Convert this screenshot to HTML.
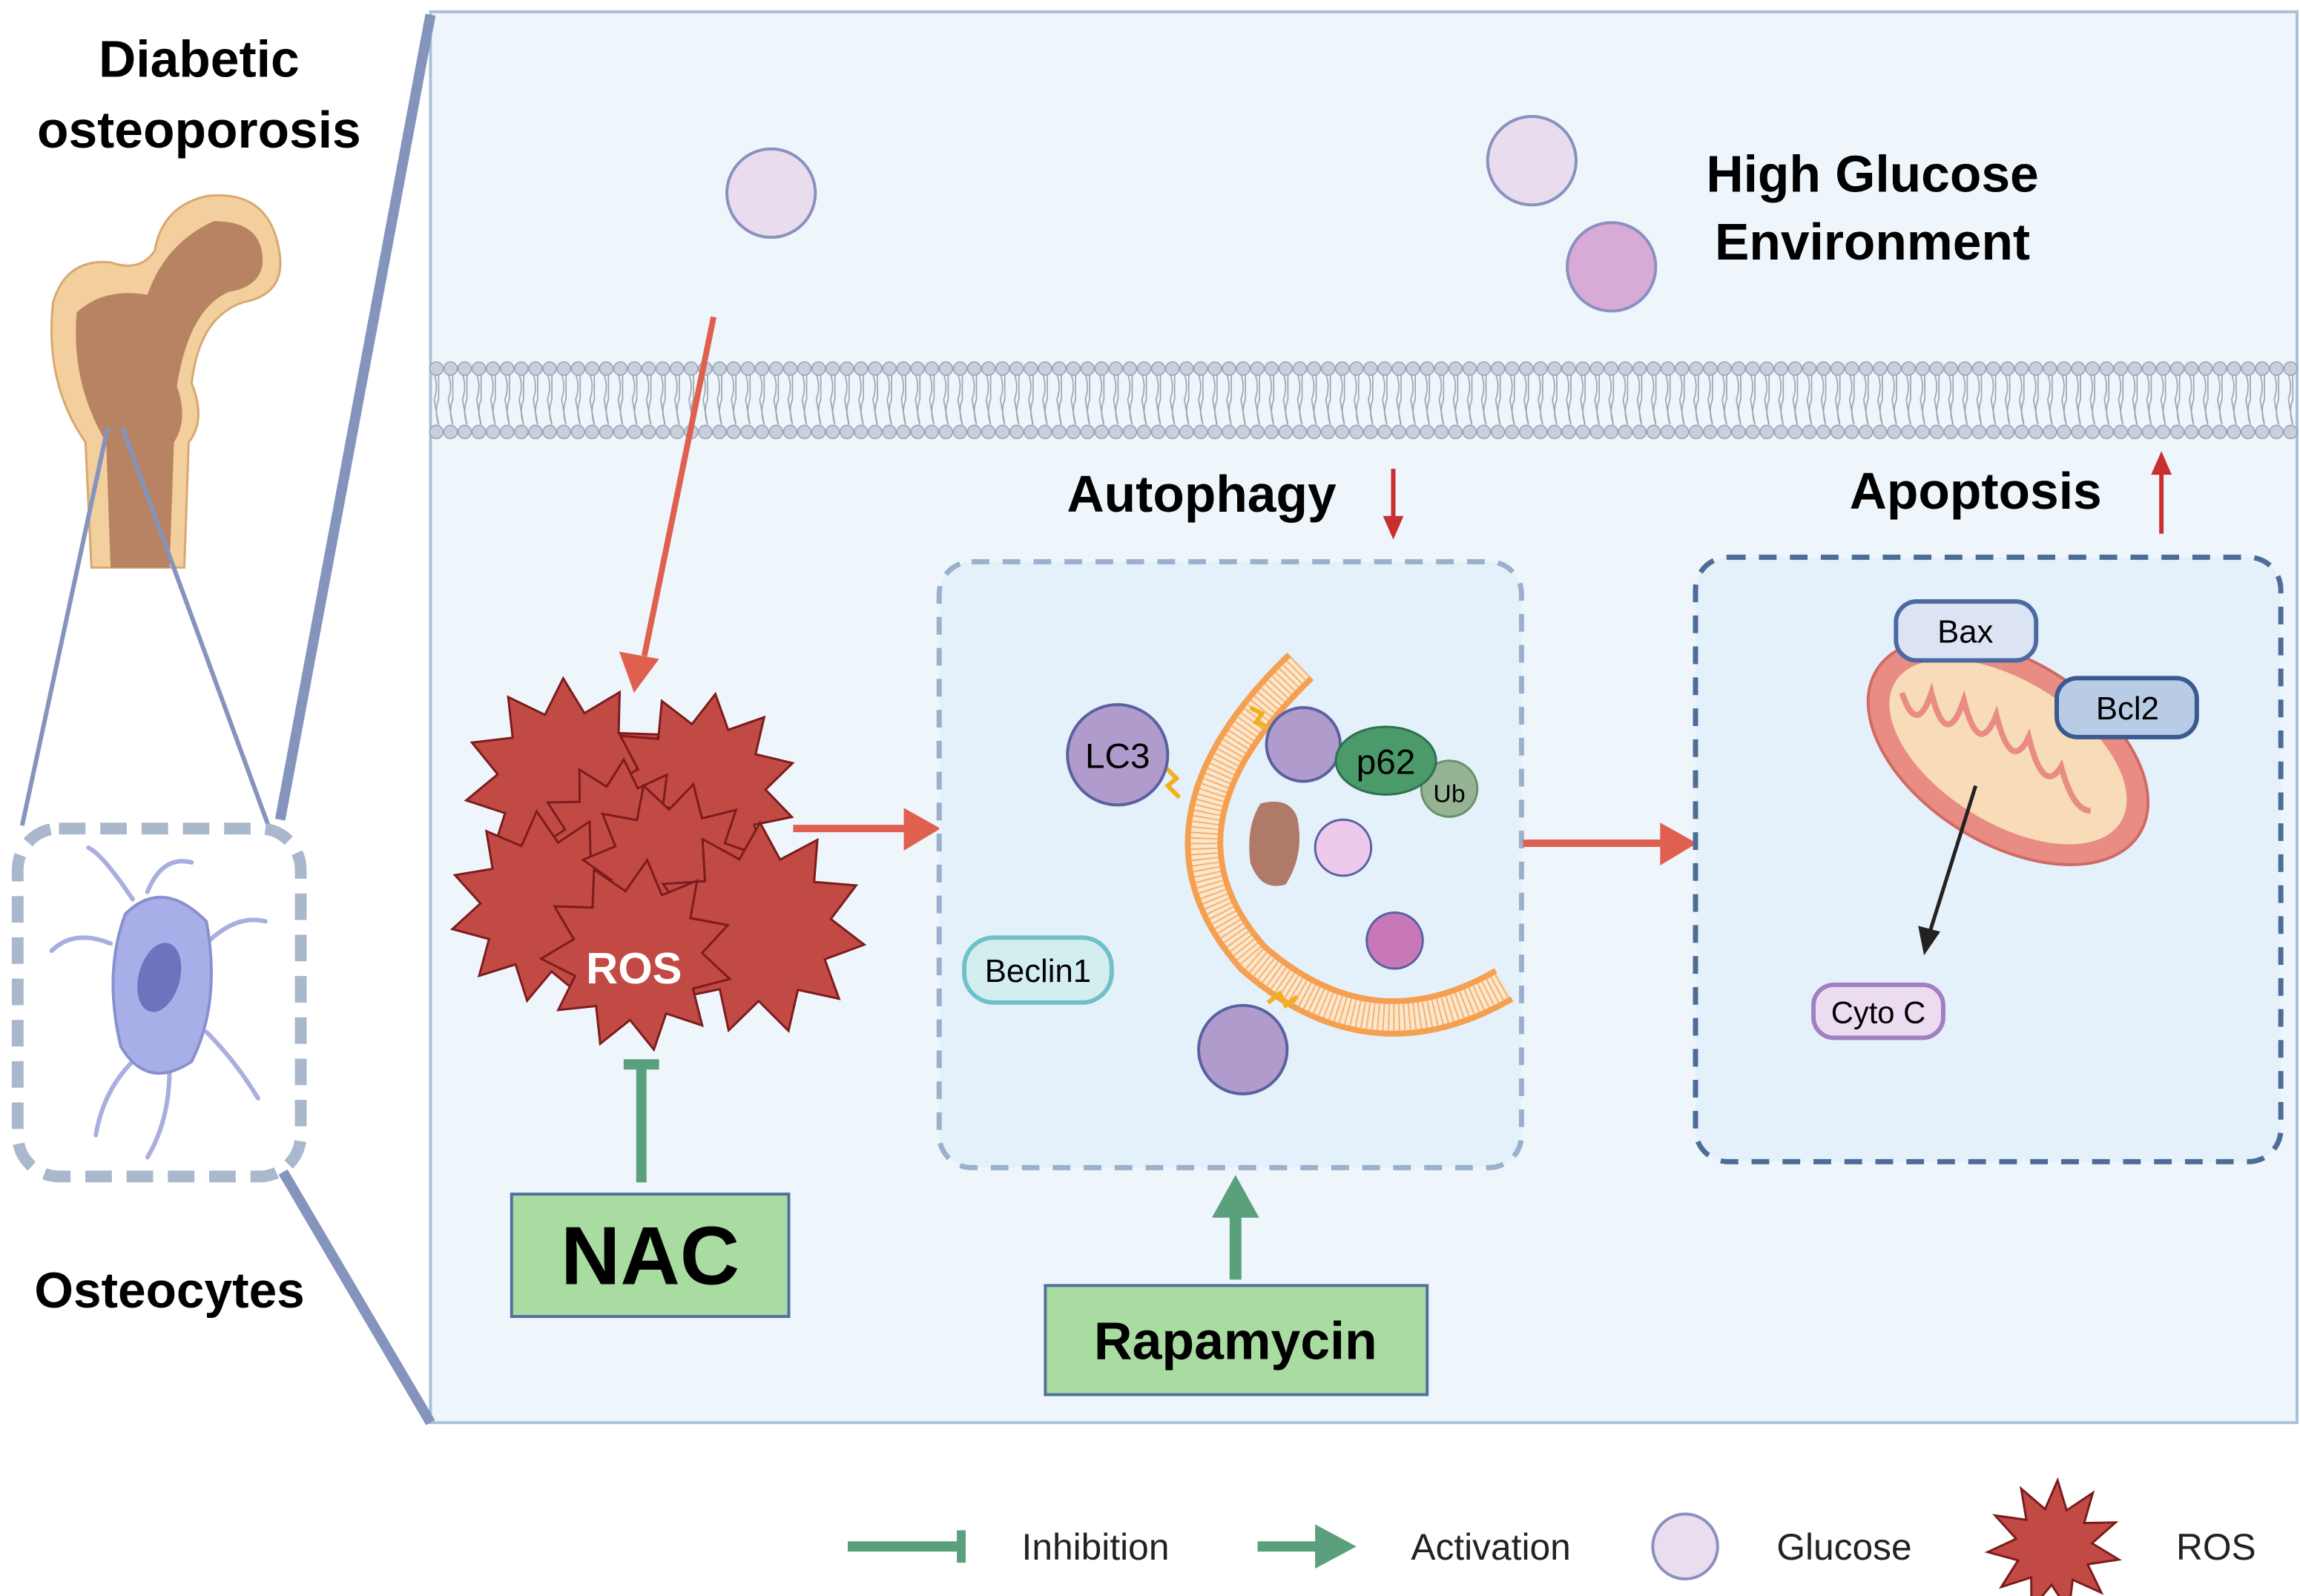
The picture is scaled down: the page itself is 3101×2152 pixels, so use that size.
<!DOCTYPE html>
<html><head><meta charset="utf-8"><style>
html,body{margin:0;padding:0;background:#fff;}
svg{display:block;}
text{font-family:"Liberation Sans",sans-serif;}
</style></head><body>
<svg id="s" width="3101" height="2152" viewBox="0 0 1560 1082.6" preserveAspectRatio="none" xmlns="http://www.w3.org/2000/svg">
<rect x="0" y="0" width="1560" height="1083" fill="#fff"/>
<!-- main panel -->
<rect x="292" y="8" width="1266" height="957" fill="#eef6fc" stroke="#a8c0d8" stroke-width="2"/>
<line x1="292" y1="10" x2="190" y2="556" stroke="#8494bc" stroke-width="7"/>
<line x1="192" y1="795" x2="292" y2="965" stroke="#8494bc" stroke-width="7"/>
<!-- left texts -->
<text x="135" y="52" font-size="35" font-weight="bold" text-anchor="middle">Diabetic</text>
<text x="135" y="100" font-size="35" font-weight="bold" text-anchor="middle">osteoporosis</text>
<text x="115" y="887" font-size="34" font-weight="bold" text-anchor="middle">Osteocytes</text>
<!-- bone -->
<path d="M62 385 L58 300 Q30 260 36 205 Q45 175 75 178 Q95 185 105 170 Q110 140 140 133 Q185 128 190 175 Q192 200 165 205 Q135 215 130 260 Q140 285 128 300 L125 385 Z" fill="#f2cf9c" stroke="#d8a870" stroke-width="1.5"/>
<path d="M75 385 L72 300 Q48 260 52 212 Q70 195 100 200 Q112 165 145 150 Q180 150 178 180 Q175 195 155 198 Q128 210 120 262 Q128 285 118 300 L115 385 Z" fill="#b07a5c" opacity="0.9"/>
<line x1="73" y1="290" x2="15" y2="560" stroke="#8494bc" stroke-width="3"/>
<line x1="83" y1="290" x2="182" y2="560" stroke="#8494bc" stroke-width="3"/>
<!-- osteocyte box -->
<rect x="12" y="562" width="192" height="236" rx="28" fill="#fff" stroke="#a9b8cc" stroke-width="8" stroke-dasharray="18 10"/>
<g stroke="#a8aee0" stroke-width="3" fill="none" stroke-linecap="round">
<path d="M90 610 Q70 580 60 575 M100 605 Q110 580 130 585 M75 640 Q50 630 35 645 M140 640 Q160 620 180 625 M140 700 Q160 720 175 745 M90 720 Q70 740 65 770 M115 725 Q115 760 100 785"/>
</g>
<path d="M85 620 Q110 595 140 625 Q150 680 130 720 Q100 740 82 710 Q70 660 85 620 Z" fill="#a8aee8" stroke="#8890d0" stroke-width="2"/>
<ellipse cx="108" cy="663" rx="14" ry="24" transform="rotate(15 108 663)" fill="#6c74c0"/>
<!-- membrane -->
<g id="mem"></g>
<!-- glucose -->
<circle cx="523" cy="131" r="30" fill="#e8dcee" stroke="#8a90c0" stroke-width="2"/>
<circle cx="1039" cy="109" r="30" fill="#e8dcee" stroke="#8a90c0" stroke-width="2"/>
<circle cx="1093" cy="181" r="30" fill="#d8aad6" stroke="#8a90c0" stroke-width="2"/>
<text x="1270" y="130" font-size="35" font-weight="bold" text-anchor="middle">High Glucose</text>
<text x="1270" y="176" font-size="35" font-weight="bold" text-anchor="middle">Environment</text>
<!-- red arrow to ROS -->
<line x1="484" y1="215" x2="437" y2="445" stroke="#e06050" stroke-width="4"/>
<polygon points="420,442 447,447 430,470" fill="#e06050"/>
<!-- ROS stars -->
<g id="ros" fill="#c24a45" stroke="#7c1c1c" stroke-width="1.5"></g>
<text x="430" y="667" font-size="30" font-weight="bold" fill="#fff" text-anchor="middle">ROS</text>
<!-- ROS -> autophagy -->
<line x1="538" y1="562" x2="615" y2="562" stroke="#e06050" stroke-width="5"/>
<polygon points="613,548 638,562 613,577" fill="#e06050"/>
<!-- NAC -->
<line x1="435" y1="802" x2="435" y2="722" stroke="#5aa07c" stroke-width="7"/>
<line x1="423" y1="722" x2="447" y2="722" stroke="#5aa07c" stroke-width="7"/>
<rect x="347" y="810" width="188" height="83" fill="#a8dca0" stroke="#5070a0" stroke-width="2"/>
<text x="441" y="871" font-size="56" font-weight="bold" text-anchor="middle">NAC</text>
<!-- Autophagy -->
<text x="815" y="347" font-size="35" font-weight="bold" text-anchor="middle">Autophagy</text>
<line x1="945" y1="318" x2="945" y2="352" stroke="#c83030" stroke-width="3"/>
<polygon points="938,350 952,350 945,366" fill="#c83030"/>
<rect x="637" y="381" width="395" height="411" rx="22" fill="#e4f1fb" stroke="#9ab0cc" stroke-width="3.5" stroke-dasharray="12 9"/>
<!-- phagophore -->
<path d="M882 452 Q770 560 850 650 Q930 720 1020 668" fill="none" stroke="#f4a050" stroke-width="26"/>
<path d="M882 452 Q770 560 850 650 Q930 720 1020 668" fill="none" stroke="#fce6cc" stroke-width="18"/>
<path d="M882 452 Q770 560 850 650 Q930 720 1020 668" fill="none" stroke="#f4b070" stroke-width="18" stroke-dasharray="1 2.5"/>
<path d="M790 520 l8 8 -6 5 8 8 M848 480 l8 4 -4 6 10 4 M860 680 l8 -6 4 8 8 -6" stroke="#f0b020" stroke-width="3" fill="none"/>
<circle cx="758" cy="512" r="34" fill="#b09ccc" stroke="#5a60a0" stroke-width="2"/>
<text x="758" y="521" font-size="24" text-anchor="middle">LC3</text>
<circle cx="884" cy="505" r="25" fill="#b09ccc" stroke="#5a60a0" stroke-width="2"/>
<circle cx="983" cy="535" r="19" fill="#94b494" stroke="#6a906a" stroke-width="1.5"/>
<ellipse cx="940" cy="516" rx="34" ry="23" fill="#4a9a6a" stroke="#2e7050" stroke-width="1.5"/>
<text x="940" y="525" font-size="24" text-anchor="middle">p62</text>
<text x="983" y="544" font-size="17" text-anchor="middle">Ub</text>
<circle cx="911" cy="575" r="19" fill="#eccaec" stroke="#5a60a0" stroke-width="1.5"/>
<circle cx="946" cy="638" r="19" fill="#c878b8" stroke="#5a60a0" stroke-width="1.5"/>
<circle cx="843" cy="712" r="30" fill="#b09ccc" stroke="#5a60a0" stroke-width="2"/>
<path d="M855 545 Q875 540 880 555 Q885 580 872 600 Q855 605 848 585 Q845 560 855 545 Z" fill="#b07a68"/>
<rect x="654" y="636" width="100" height="44" rx="20" fill="#d4eef0" stroke="#70c0c8" stroke-width="3"/>
<text x="704" y="666" font-size="22" text-anchor="middle">Beclin1</text>
<!-- Rapamycin -->
<line x1="838" y1="868" x2="838" y2="822" stroke="#5aa07c" stroke-width="8"/>
<polygon points="822,826 854,826 838,797" fill="#5aa07c"/>
<rect x="709" y="872" width="259" height="74" fill="#a8dca0" stroke="#5070a0" stroke-width="2"/>
<text x="838" y="922" font-size="36" font-weight="bold" text-anchor="middle">Rapamycin</text>
<!-- autophagy -> apoptosis -->
<line x1="1033" y1="572" x2="1128" y2="572" stroke="#e06050" stroke-width="5"/>
<polygon points="1126,558 1151,572 1126,587" fill="#e06050"/>
<!-- Apoptosis -->
<text x="1340" y="345" font-size="35" font-weight="bold" text-anchor="middle">Apoptosis</text>
<line x1="1466" y1="362" x2="1466" y2="320" stroke="#c83030" stroke-width="3"/>
<polygon points="1459,322 1473,322 1466,306" fill="#c83030"/>
<rect x="1150" y="378" width="397" height="410" rx="22" fill="#e4f1fb" stroke="#4e6c98" stroke-width="3.5" stroke-dasharray="12 9"/>
<ellipse cx="1362" cy="510" rx="105" ry="62" transform="rotate(32 1362 510)" fill="#e88c84" stroke="#d06a64" stroke-width="2"/>
<ellipse cx="1362" cy="510" rx="90" ry="48" transform="rotate(32 1362 510)" fill="#f8dcb8"/>
<path d="M1290 470 q10 30 20 0 q10 40 22 5 q10 40 22 10 q10 40 22 15 q10 40 22 20 q8 30 20 30" fill="none" stroke="#e88c84" stroke-width="4"/>
<rect x="1286" y="408" width="95" height="40" rx="14" fill="#dce4f4" stroke="#4a6aa0" stroke-width="3"/>
<text x="1333" y="436" font-size="22" text-anchor="middle">Bax</text>
<rect x="1395" y="460" width="95" height="40" rx="14" fill="#b8cce6" stroke="#3a5a90" stroke-width="3"/>
<text x="1443" y="488" font-size="22" text-anchor="middle">Bcl2</text>
<line x1="1340" y1="533" x2="1309" y2="632" stroke="#222" stroke-width="2.5"/>
<polygon points="1301,628 1316,632 1305,648" fill="#222"/>
<rect x="1230" y="668" width="88" height="36" rx="14" fill="#ecdcf0" stroke="#a080c0" stroke-width="3"/>
<text x="1274" y="694" font-size="21" text-anchor="middle">Cyto C</text>
<!-- legend -->
<line x1="575" y1="1049" x2="652" y2="1049" stroke="#5aa07c" stroke-width="7"/>
<line x1="652" y1="1038" x2="652" y2="1060" stroke="#5aa07c" stroke-width="6"/>
<text x="693" y="1058" font-size="25" fill="#222">Inhibition</text>
<line x1="853" y1="1049" x2="895" y2="1049" stroke="#5aa07c" stroke-width="7"/>
<polygon points="892,1034 892,1064 920,1049" fill="#5aa07c"/>
<text x="957" y="1058" font-size="25" fill="#222">Activation</text>
<circle cx="1143" cy="1049" r="22" fill="#eadeee" stroke="#8a90c0" stroke-width="2"/>
<text x="1205" y="1058" font-size="25" fill="#222">Glucose</text>
<g id="rosl" fill="#c24a45" stroke="#7c1c1c" stroke-width="1.5"></g>
<text x="1476" y="1058" font-size="25" fill="#222">ROS</text>
</svg>
<script>
var NS="http://www.w3.org/2000/svg";
function star(g,cx,cy,ro,ri,n,rot){var p=[];for(var i=0;i<2*n;i++){var r=i%2?ri:ro;var a=Math.PI*i/n+rot;p.push((cx+r*Math.cos(a)).toFixed(1)+","+(cy+r*Math.sin(a)).toFixed(1));}
var e=document.createElementNS(NS,"polygon");e.setAttribute("points",p.join(" "));g.appendChild(e);}
var g=document.getElementById("ros");
[[385,530,70,0.1],[475,535,65,0.3],[420,570,55,0.2],[370,615,65,0.05],[455,590,60,0.4],[515,630,72,0.15],[432,648,65,0.25]].forEach(function(s){star(g,s[0],s[1],s[2],s[2]*0.68,11,s[3]);});
star(document.getElementById("rosl"),1393,1049,45,26,11,0.2);
var m=document.getElementById("mem"),h="";
for(var x=296;x<1558;x+=9.6){
h+='<path d="M'+(x-1.5)+' 254 q3 8 0 17 l3 17 M'+(x+1.5)+' 254 l0 17 q-3 8 0 17" stroke="#a0a8b4" stroke-width="0.9" fill="none"/>';
h+='<circle cx="'+x+'" cy="250" r="4.5" fill="#c8d0dc" stroke="#9aa4b4" stroke-width="0.8"/>';
h+='<circle cx="'+x+'" cy="293" r="4.5" fill="#c8d0dc" stroke="#9aa4b4" stroke-width="0.8"/>';}
m.innerHTML=h;
</script>
</body></html>
